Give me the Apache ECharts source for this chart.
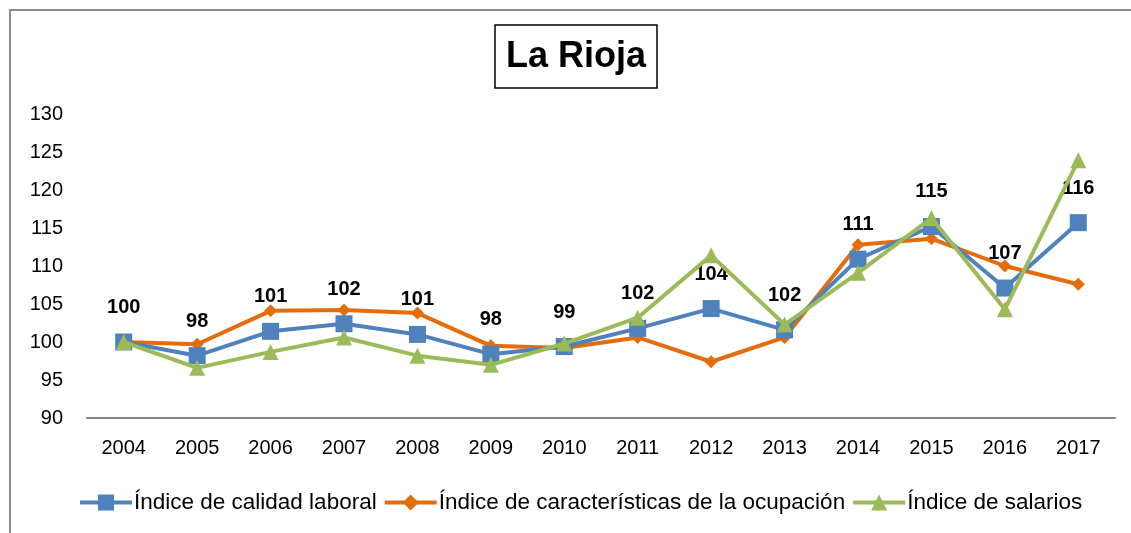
<!DOCTYPE html>
<html>
<head>
<meta charset="utf-8">
<script src="https://cdn.jsdelivr.net/npm/echarts@6/dist/echarts.min.js"></script>
<style>
  body { margin: 0; background: #fff; }
  #chart { width: 1131px; height: 533px; }
</style>
</head>
<body>
<div id="chart"></div>
<script>
// años del eje x
var years = ['2004','2005','2006','2007','2008','2009','2010','2011','2012','2013','2014','2015','2016','2017'];
// series
var calidadLaboral = [100, 98.2, 101.4, 102.4, 101, 98.4, 99.4, 101.8, 104.4, 101.6, 110.9, 115.2, 107.1, 115.7];
var caracteristicas = [100, 99.7, 104.1, 104.2, 103.8, 99.5, 99.2, 100.6, 97.4, 100.6, 112.8, 113.6, 110.0, 107.6];
var salarios = [100, 96.6, 98.7, 100.6, 98.2, 97.0, 99.8, 103.2, 111.4, 102.3, 109.1, 116.3, 104.3, 123.9];
// etiquetas mostradas sobre la serie azul
var etiquetas = ['100','98','101','102','101','98','99','102','104','102','111','115','107','116'];
var seriesNames = ['Índice de calidad laboral', 'Índice de características de la ocupación', 'Índice de salarios'];

var font = 'Liberation Sans';
var myChart = echarts.init(document.getElementById('chart'));
myChart.setOption({
  animation: false,
  textStyle: { fontFamily: font },
  graphic: [
    {
      type: 'rect',
      shape: { x: 10, y: 10, width: 1300, height: 700 },
      style: { fill: 'none', stroke: '#8c8c8c', lineWidth: 2 },
      silent: true
    }
  ],
  title: {
    text: 'La Rioja',
    left: 495,
    top: 25,
    borderColor: '#000',
    borderWidth: 1.5,
    padding: [14, 11, 13, 11],
    textStyle: { fontFamily: font, fontWeight: 'bold', fontSize: 36, color: '#000' }
  },
  legend: {
    top: 486,
    left: 73,
    itemWidth: 52,
    itemHeight: 20,
    itemGap: 6,
    lineStyle: { width: 4 },
    textStyle: { fontFamily: font, fontSize: 22.5, color: '#000', padding: [0, 0, 0, -3] },
    data: seriesNames
  },
  grid: { left: 87, right: 16, top: 114, bottom: 115 },
  xAxis: {
    type: 'category',
    data: years,
    boundaryGap: true,
    axisLine: { lineStyle: { color: '#868686', width: 2 } },
    axisTick: { show: false },
    axisLabel: { color: '#000', fontSize: 20, margin: 20, fontFamily: font }
  },
  yAxis: {
    type: 'value',
    min: 90,
    max: 130,
    interval: 5,
    axisLine: { show: false },
    axisTick: { show: false },
    splitLine: { show: false },
    axisLabel: { color: '#000', fontSize: 20, margin: 24, fontFamily: font }
  },
  series: [
    {
      name: seriesNames[0],
      type: 'line',
      data: calidadLaboral,
      symbol: 'rect',
      symbolSize: 17,
      z: 3,
      lineStyle: { color: '#4F81BD', width: 4 },
      itemStyle: { color: '#4F81BD' },
      label: {
        show: true,
        position: 'top',
        distance: 16,
        fontSize: 20,
        fontWeight: 'bold',
        color: '#000',
        fontFamily: font,
        formatter: function (p) { return etiquetas[p.dataIndex]; }
      }
    },
    {
      name: seriesNames[1],
      type: 'line',
      data: caracteristicas,
      symbol: 'diamond',
      symbolSize: 13,
      z: 2,
      lineStyle: { color: '#E46C0A', width: 4 },
      itemStyle: { color: '#E46C0A' }
    },
    {
      name: seriesNames[2],
      type: 'line',
      data: salarios,
      symbol: 'triangle',
      symbolSize: 16,
      z: 4,
      lineStyle: { color: '#9BBB59', width: 4 },
      itemStyle: { color: '#9BBB59' }
    }
  ]
});
</script>
</body>
</html>
